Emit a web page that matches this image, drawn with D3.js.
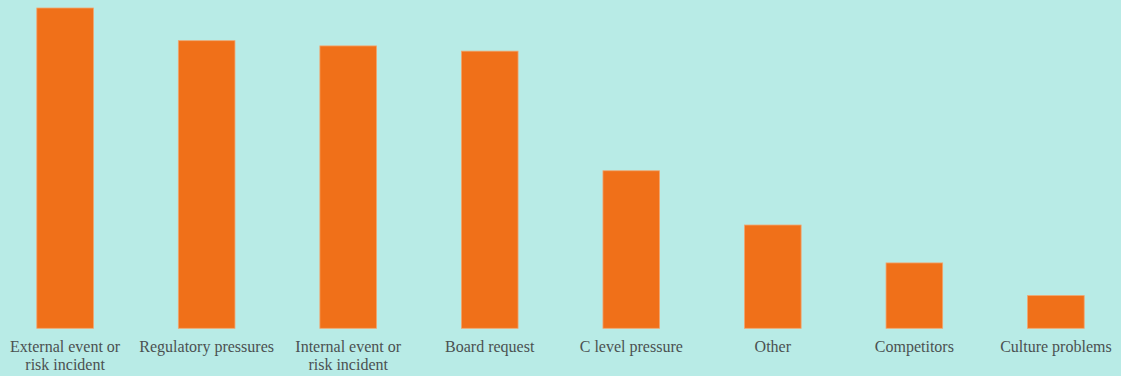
<!DOCTYPE html>
<html>
<head>
<meta charset="utf-8">
<script src="https://cdn.jsdelivr.net/npm/d3@7"></script>
<style>
  html, body { margin: 0; padding: 0; background: #b8ebe6; }
  svg { display: block; }
</style>
</head>
<body>
<svg id="chart" width="1121" height="376"></svg>
<script>
// Reasons driving the programme, share of respondents
const categories = [
  "External event or risk incident",
  "Regulatory pressures",
  "Internal event or risk incident",
  "Board request",
  "C level pressure",
  "Other",
  "Competitors",
  "Culture problems"
];
// Tick labels, one entry per line
const tickLabels = [
  ["External event or", "risk incident"],
  ["Regulatory pressures"],
  ["Internal event or", "risk incident"],
  ["Board request"],
  ["C level pressure"],
  ["Other"],
  ["Competitors"],
  ["Culture problems"]
];
const values = [49, 44, 43.2, 42.4, 24.1, 15.8, 10, 5];

const chartW = 1121, chartH = 376;
const baseY = 328.3, topY = 8;

const svg = d3.select("#chart");

svg.append("rect")
  .attr("width", chartW).attr("height", chartH)
  .attr("fill", "#b8ebe6");

const x = d3.scaleBand()
  .domain(categories)
  .range([0, chartW])
  .paddingInner(0.6)
  .paddingOuter(0.26);

const y = d3.scaleLinear()
  .domain([0, d3.max(values)])
  .range([baseY, topY]);

const data = categories.map((c, i) => ({ c, v: values[i] }));

svg.append("g")
  .selectAll("rect")
  .data(data)
  .join("rect")
  .attr("x", d => x(d.c))
  .attr("y", d => y(d.v))
  .attr("width", x.bandwidth())
  .attr("height", d => y(0) - y(d.v))
  .attr("fill", "#f07019")
  .attr("stroke", "#f2a56e")
  .attr("stroke-width", 0.8);

// Category labels under the bars
const axis = d3.axisBottom(x).tickSize(0).tickPadding(0);
const gAxis = svg.append("g")
  .attr("transform", `translate(0,${baseY})`)
  .call(axis)
  .attr("font-family", "Liberation Serif")
  .attr("font-size", 16);
gAxis.select(".domain").remove();
gAxis.selectAll(".tick text")
  .attr("fill", "#4b5151")
  .attr("dy", null)
  .text(null)
  .each(function(d) {
    const lines = tickLabels[categories.indexOf(d)];
    const t = d3.select(this);
    lines.forEach((ln, i) => {
      t.append("tspan")
        .attr("x", 0)
        .attr("y", 23.5 + i * 18.5)
        .text(ln);
    });
  });
</script>
</body>
</html>
